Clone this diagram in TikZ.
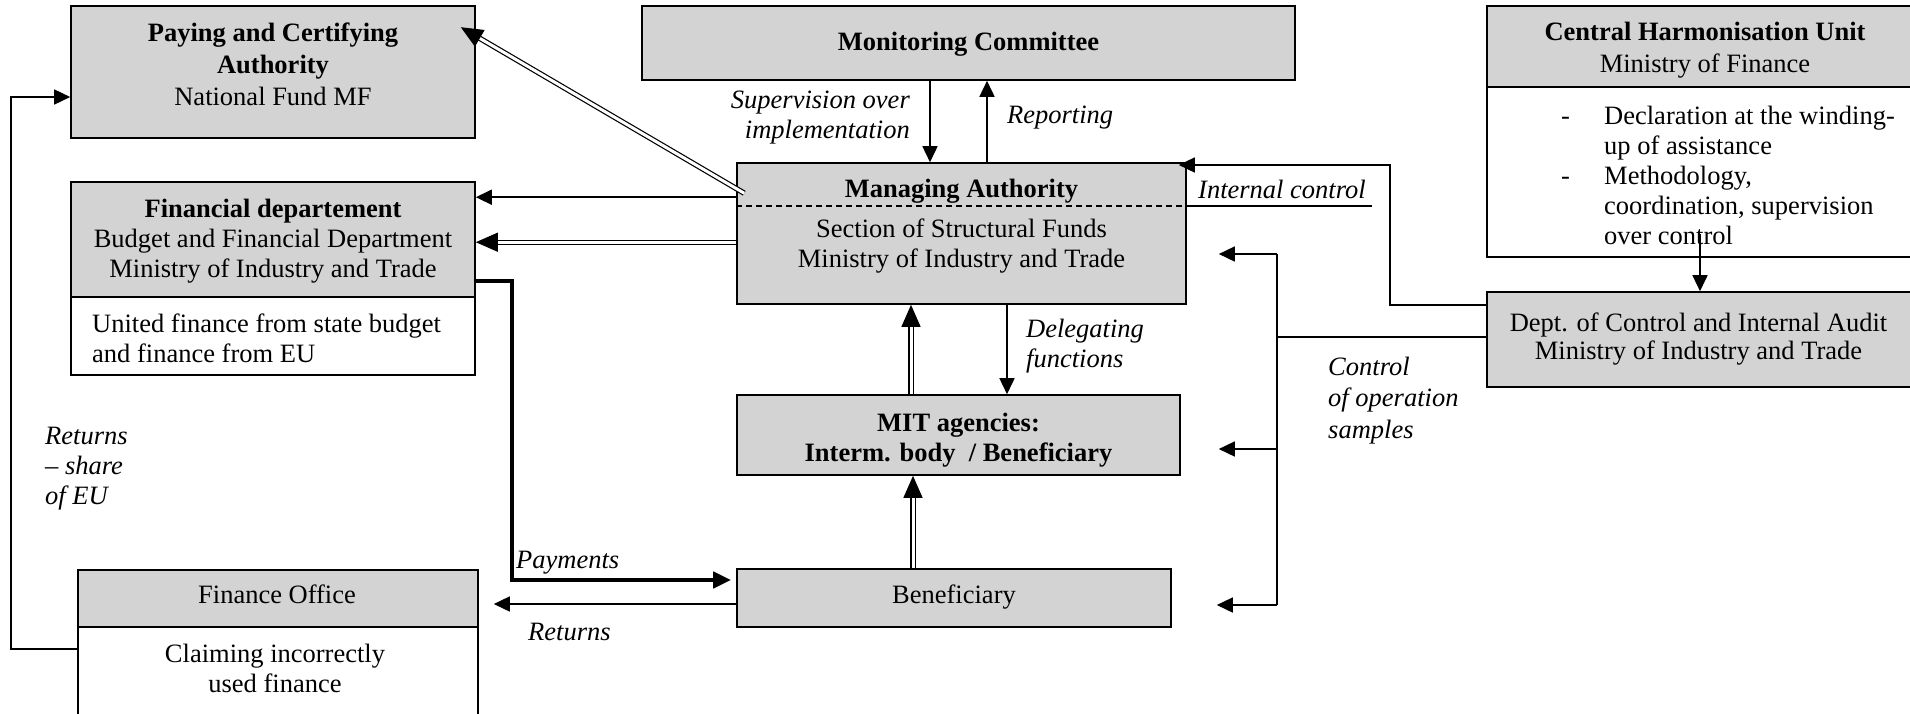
\documentclass[tikz,border=0pt]{standalone}
\usepackage{fontspec}
\setmainfont{Liberation Serif}
\usetikzlibrary{arrows.meta,calc}

\definecolor{boxgray}{RGB}{211,211,211}

\begin{document}
\begin{tikzpicture}[x=1pt,y=-1pt,
  font=\fontsize{26.5}{30}\selectfont,
  box/.style={draw=black, line width=1.6pt, fill=boxgray, inner sep=0pt},
  wbox/.style={draw=black, line width=1.6pt, fill=white, inner sep=0pt},
  txt/.style={inner sep=0pt, align=center, anchor=base},
  conn/.style={line width=1.6pt, -{Triangle[length=16pt,width=15pt]}},
  dconn/.style={double, double distance=3pt, line width=1.2pt, -{Triangle[length=22pt,width=19pt]}},
  lbl/.style={font=\fontsize{26.5}{30}\selectfont\itshape, inner sep=0pt},
]
\useasboundingbox (0,0) rectangle (1910,713);

% ---------- boxes ----------
\node[box, minimum width=404, minimum height=132] (pay) at (273,72) {};
\node[box, minimum width=404, minimum height=115] (fin) at (273,239.5) {};
\node[wbox, minimum width=404, minimum height=78] (finb) at (273,336) {};
\node[box, minimum width=653, minimum height=74] (mc) at (968.5,43) {};
\node[box, minimum width=449, minimum height=141] (ma) at (961.5,233.5) {};
\node[box, minimum width=443, minimum height=80] (mit) at (958.5,435) {};
\node[box, minimum width=434, minimum height=58] (ben) at (954,598) {};
\node[box, minimum width=400, minimum height=57] (fo) at (278,598.5) {};
\node[wbox, minimum width=400, minimum height=89] (fob) at (278,671.5) {};
\node[box, minimum width=434, minimum height=81] (chu) at (1704,46.5) {};
\node[wbox, minimum width=434, minimum height=170] (chub) at (1704,172) {};
\node[box, minimum width=434, minimum height=95] (dept) at (1704,339.5) {};

% ---------- box texts (anchored on the last baseline) ----------
\node[txt] (paytxt) at (273,105)
  {\textbf{Paying and Certifying}\\[2pt]\textbf{Authority}\\[2pt]National Fund MF};
\node[txt] (fintxt) at (273,277)
  {\textbf{Financial departement}\\Budget and Financial Department\\Ministry of Industry and Trade};
\node[txt, align=left, anchor=base west] (finbtxt) at (92,362)
  {United finance from state budget\\and finance from EU};
\node[txt] (mctxt) at (968.5,50) {\textbf{Monitoring Committee}};
\node[txt] (matxt) at (961.5,267)
  {\textbf{Managing Authority}\\[10pt]Section of Structural Funds\\Ministry of Industry and Trade};
\node[txt] (mittxt) at (958.5,461)
  {\textbf{MIT agencies:}\\\textbf{Interm. body\ \ / Beneficiary}};
\node[txt] (bentxt) at (954,603) {Beneficiary};
\node[txt] (fotxt) at (277,603) {Finance Office};
\node[txt] (fobtxt) at (275,692) {Claiming incorrectly\\used finance};
\node[txt] (chutxt) at (1705,72) {\textbf{Central Harmonisation Unit}\\[2pt]Ministry of Finance};
\node[txt, align=left, anchor=base west] (chulist) at (1561,244)
  {\makebox[43pt][l]{-}Declaration at the winding-\\
   \hspace*{43pt}up of assistance\\
   \makebox[43pt][l]{-}Methodology,\\
   \hspace*{43pt}coordination, supervision\\
   \hspace*{43pt}over control};
\node[txt] (depttxt) at (1698.5,359)
  {Dept. of Control and Internal Audit\\[-2pt]Ministry of Industry and Trade};

% ---------- helper coordinates ----------
\coordinate (xsup) at (930,0);
\coordinate (xrep) at (987,0);
\coordinate (xdel) at (1007,0);
\coordinate (xd1) at (911,0);
\coordinate (xd2) at (913,0);
\coordinate (xch) at (1700,0);
\coordinate (dash) at (0,206);
\coordinate (yic) at (0,305);
\coordinate (icv) at (1390,165);
\coordinate (ys) at (0,337);
\coordinate (cv1) at (1277,254);
\coordinate (cv2) at (1277,449);
\coordinate (cv3) at (1277,605);
\coordinate (pcorner) at (512,580);
\coordinate (yr) at (0,604);
\coordinate (lb) at (11,649);
\coordinate (lt) at (11,97);

% ---------- Managing Authority divider ----------
\draw[line width=1.2pt, dash pattern=on 6pt off 4pt] (ma.west |- dash) -- (ma.east |- dash);
\draw[line width=1.6pt] (ma.east |- dash) -- (1372,206);

% ---------- connectors ----------
\draw[dconn] ($(ma.north west)+(8,31)$) -- ($(pay.north east)+(-15,22)$);
\draw[conn] ($(ma.north west)+(0,35)$) -- ($(fin.north east)+(0,16)$);
\draw[dconn] ($(ma.north west)+(0,80)$) -- ($(fin.north east)+(0,61)$);

\draw[conn] (mc.south -| xsup) -- (ma.north -| xsup);
\draw[conn] (ma.north -| xrep) -- (mc.south -| xrep);

\draw[conn] (dept.west |- yic) -| (icv) -- ($(ma.north east |- icv)+(-8,0)$);

\draw[line width=1.6pt] (dept.west |- ys) -- (cv1 |- ys);
\draw[line width=1.6pt] (cv1) -- (cv3);
\draw[conn, shorten >=32pt] (cv1) -- (ma.east |- cv1);
\draw[conn, shorten >=38pt] (cv2) -- (mit.east |- cv2);
\draw[conn, shorten >=45pt] (cv3) -- (ben.east |- cv3);

\draw[line width=4.5pt, -{Triangle[length=18pt,width=16pt]}, shorten >=5pt]
  ($(fin.south east)+(0,-17)$) -| (pcorner) -- (ben.west |- pcorner);
\draw[conn, shorten >=15pt] (ben.west |- yr) -- (fo.east |- yr);
\draw[conn] (fob.west |- lb) -- (lb) |- (pay.west |- lt);

\draw[conn] (ma.south -| xdel) -- (mit.north -| xdel);
\draw[dconn] (mit.north -| xd1) -- (ma.south -| xd1);
\draw[dconn] (ben.north -| xd2) -- (mit.south -| xd2);
\draw[conn] ($(chub.south -| xch)+(0,-24)$) -- (dept.north -| xch);

% ---------- labels (anchored on the last baseline) ----------
\node[lbl, align=right, anchor=base east] (lsup) at (910,138) {Supervision over\\implementation};
\node[lbl, anchor=base west] (lrep) at (1007,123) {Reporting};
\node[lbl, anchor=base west] (lic) at (1198,198) {Internal control};
\node[lbl, align=left, anchor=base west] (ldel) at (1026,367) {Delegating\\functions};
\node[lbl, align=left, anchor=base west] (lctl) at (1328,438) {Control\\[1.5pt]of operation\\[1.5pt]samples};
\node[lbl, anchor=base west] (lpay) at (516,568) {Payments};
\node[lbl, anchor=base west] (lret) at (528,640) {Returns};
\node[lbl, align=left, anchor=base west] (lreu) at (45,504) {Returns\\– share\\of EU};
\end{tikzpicture}
\end{document}
